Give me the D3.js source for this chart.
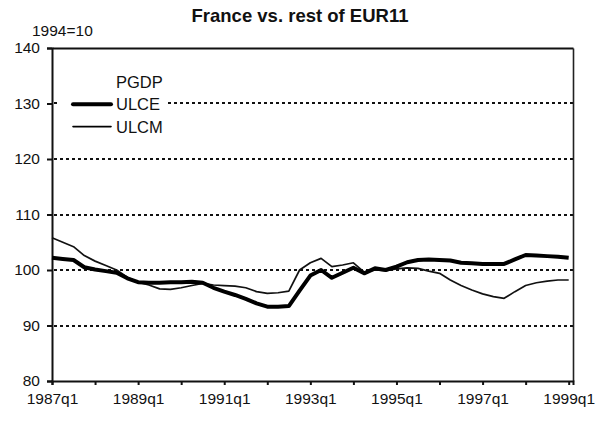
<!DOCTYPE html>
<html>
<head>
<meta charset="utf-8">
<script src="https://cdn.jsdelivr.net/npm/d3@7"></script>
<style>
  html, body { margin: 0; padding: 0; background: #fff; }
  svg { display: block; font-family: Arial, "Liberation Sans", sans-serif; }
</style>
</head>
<body>
<svg id="chart" width="607" height="422"></svg>
<script>
//Quarters 1987q1 .. 1999q1
const quarters = [];
for (let y = 1987; y <= 1999; y++) {
  for (let q = 1; q <= 4; q++) {
    if (y === 1999 && q > 1) break;
    quarters.push(y + "q" + q);
  }
}

//Axis labels
const xTickLabels = ["1987q1", "1989q1", "1991q1", "1993q1", "1995q1", "1997q1", "1999q1"];
const yTicks = [80, 90, 100, 110, 120, 130, 140];
const gridValues = [90, 100, 110, 120, 130];

//Series (index 1994=100)
const ulce = [
  102.2, 102.0, 101.8, 100.5, 100.1, 99.8, 99.5, 98.5, 97.8, 97.7,
  97.7, 97.8, 97.8, 97.9, 97.7, 96.8, 96.1, 95.5, 94.8, 94.0,
  93.4, 93.4, 93.5, 96.3, 99.0, 100.0, 98.6, 99.5, 100.4, 99.4,
  100.3, 100.0, 100.6, 101.4, 101.8, 101.9, 101.8, 101.7, 101.3, 101.2,
  101.1, 101.1, 101.1, 101.9, 102.7, 102.6, 102.5, 102.4, 102.2
];
const ulcm = [
  105.8, 105.0, 104.2, 102.6, 101.6, 100.8, 100.0, 98.7, 97.8, 97.3,
  96.6, 96.5, 96.8, 97.2, 97.6, 97.3, 97.2, 97.1, 96.8, 96.1,
  95.8, 95.9, 96.2, 100.0, 101.3, 102.1, 100.6, 100.9, 101.3, 99.6,
  100.0, 99.9, 100.2, 100.4, 100.3, 99.8, 99.4, 98.2, 97.2, 96.4,
  95.7, 95.2, 94.9, 96.1, 97.2, 97.7, 98.0, 98.2, 98.2
];

//Legend entries (PGDP shows no line in the original)
const legendNames = ["PGDP", "ULCE", "ULCM"];
const legendWidths = [0, 4, 1.6];

const svg = d3.select("#chart");
const margin = { left: 52, right: 34, top: 48, bottom: 41 };
const W = 607, H = 422;

const x = d3.scaleLinear().domain([0, 48.4]).range([margin.left, W - margin.right]);
const y = d3.scaleLinear().domain([80, 140]).range([H - margin.bottom, margin.top]);

//Title
svg.append("text")
  .attr("x", 300)
  .attr("y", 21.5)
  .attr("text-anchor", "middle")
  .attr("font-size", "18.5px")
  .attr("font-weight", "bold")
  .attr("fill", "#111")
  .text("France vs. rest of EUR11");

//Unit label
svg.append("text")
  .attr("x", 32)
  .attr("y", 36)
  .attr("font-size", "15.5px")
  .attr("fill", "#111")
  .text("1994=10");

//Gridlines
svg.append("g")
  .selectAll("line")
  .data(gridValues)
  .join("line")
  .attr("x1", x(0) + 2)
  .attr("x2", x.range()[1])
  .attr("y1", (d) => Math.round(y(d)))
  .attr("y2", (d) => Math.round(y(d)))
  .attr("stroke", "#111")
  .attr("stroke-width", 2)
  .attr("stroke-dasharray", "3,3");

//Top border drawn as a second axis, right border as a path
const topAxis = svg.append("g")
  .attr("transform", `translate(0,${y(140)})`)
  .call(d3.axisTop(x).tickValues([]).tickSizeOuter(0));
topAxis.select(".domain").attr("stroke", "#111").attr("stroke-width", 2);

const rightAxis = svg.append("g")
  .attr("transform", `translate(${x.range()[1]},0)`)
  .call(d3.axisRight(y).tickValues([]).tickSizeOuter(0));
rightAxis.select(".domain").attr("stroke", "#222").attr("stroke-width", 1.6);

//Y axis
const yAxis = svg.append("g")
  .attr("transform", `translate(${margin.left},0)`)
  .call(d3.axisLeft(y).tickValues(yTicks).tickSize(5).tickPadding(7));
yAxis.select(".domain").attr("stroke", "#111").attr("stroke-width", 2);
yAxis.selectAll(".tick line").attr("stroke", "#111").attr("stroke-width", 2);
yAxis.selectAll(".tick text")
  .attr("font-size", "15.5px")
  .attr("font-family", "Arial, 'Liberation Sans', sans-serif")
  .attr("fill", "#111");

//X axis
const xTickIdx = d3.range(0, quarters.length, 4);
const xAxis = svg.append("g")
  .attr("transform", `translate(0,${y(80)})`)
  .call(
    d3.axisBottom(x)
      .tickValues(xTickIdx)
      .tickSize(4)
      .tickPadding(8)
      .tickFormat((d) => (d % 8 === 0 ? xTickLabels[d / 8] : ""))
  );
xAxis.select(".domain").attr("stroke", "#111").attr("stroke-width", 2);
xAxis.selectAll(".tick line").attr("stroke", "#111").attr("stroke-width", 2);
xAxis.selectAll(".tick text")
  .attr("font-size", "15.5px")
  .attr("font-family", "Arial, 'Liberation Sans', sans-serif")
  .attr("fill", "#111");

//Lines
const line = d3.line()
  .x((d, i) => x(i))
  .y((d) => y(d));

svg.append("path")
  .datum(ulcm)
  .attr("d", line)
  .attr("fill", "none")
  .attr("stroke", "#111")
  .attr("stroke-width", 1.7)
  .attr("stroke-linejoin", "round");

svg.append("path")
  .datum(ulce)
  .attr("d", line)
  .attr("fill", "none")
  .attr("stroke", "#000")
  .attr("stroke-width", 4)
  .attr("stroke-linejoin", "round");

//Legend (white box hides the gridline behind it)
const legend = svg.append("g").attr("transform", "translate(72,82)");
legend.append("rect")
  .attr("x", -12)
  .attr("y", -16)
  .attr("width", 108)
  .attr("height", 72)
  .attr("fill", "#fff");
const leg = legend.selectAll("g")
  .data(legendNames)
  .join("g")
  .attr("transform", (d, i) => `translate(0,${i * 22.3})`);
leg.append("line")
  .attr("x1", 1).attr("x2", 39)
  .attr("y1", 0).attr("y2", 0)
  .attr("stroke", "#000")
  .attr("stroke-linecap", "round")
  .attr("stroke-width", (d, i) => legendWidths[i])
  .attr("stroke-opacity", (d, i) => (legendWidths[i] > 0 ? 1 : 0));
leg.append("text")
  .attr("x", 44)
  .attr("y", 6)
  .attr("font-size", "16.5px")
  .attr("fill", "#111")
  .text((d) => d);
</script>
</body>
</html>
